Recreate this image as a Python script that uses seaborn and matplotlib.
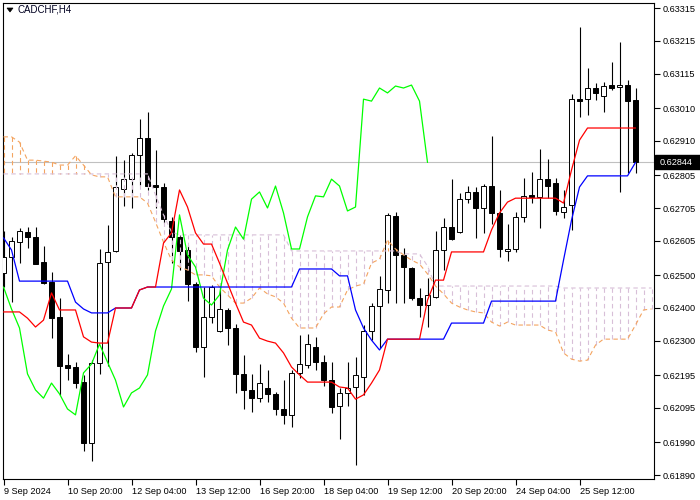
import numpy as np
import pandas as pd
import seaborn as sns
import matplotlib
matplotlib.use("Agg")
import matplotlib.pyplot as plt
from matplotlib.transforms import blended_transform_factory
from matplotlib.patches import Rectangle, Polygon

symbol = "CADCHF,H4"
last_price = 0.62844

# H4 candles (80 bars)
opens = [0.62507, 0.62556, 0.62601, 0.62632, 0.62617, 0.62540, 0.62479, 0.62373, 0.62226, 0.62220,
         0.62174, 0.61988, 0.62232, 0.62540, 0.62574, 0.62763, 0.62793, 0.62867, 0.62918, 0.62775,
         0.62769, 0.62665, 0.62617, 0.62577, 0.62473, 0.62281, 0.62373, 0.62330, 0.62394, 0.62339,
         0.62199, 0.62150, 0.62125, 0.62156, 0.62138, 0.62092, 0.62074, 0.62202, 0.62226, 0.62281,
         0.62235, 0.62180, 0.62101, 0.62141, 0.62159, 0.62190, 0.62330, 0.62406, 0.62455, 0.62681,
         0.62562, 0.62522, 0.62430, 0.62409, 0.62434, 0.62577, 0.62647, 0.62632, 0.62732, 0.62754,
         0.62705, 0.62772, 0.62690, 0.62574, 0.62580, 0.62678, 0.62745, 0.62739, 0.62793, 0.62781,
         0.62693, 0.62714, 0.63037, 0.63037, 0.63071, 0.63047, 0.63080, 0.63074, 0.63080, 0.63034]
highs = [0.62635, 0.62617, 0.62644, 0.62647, 0.62647, 0.62589, 0.62510, 0.62430, 0.62260, 0.62235,
         0.62196, 0.62241, 0.62580, 0.62653, 0.62864, 0.62851, 0.62873, 0.62976, 0.62998, 0.62882,
         0.62781, 0.62678, 0.62623, 0.62592, 0.62479, 0.62464, 0.62470, 0.62476, 0.62400, 0.62351,
         0.62257, 0.62199, 0.62229, 0.62211, 0.62144, 0.62180, 0.62211, 0.62318, 0.62321, 0.62312,
         0.62257, 0.62235, 0.62156, 0.62235, 0.62251, 0.62348, 0.62415, 0.62498, 0.62690, 0.62693,
         0.62583, 0.62525, 0.62461, 0.62491, 0.62635, 0.62674, 0.62793, 0.62751, 0.62772, 0.62769,
         0.62778, 0.62925, 0.62760, 0.62656, 0.62693, 0.62797, 0.62815, 0.62885, 0.62854, 0.62797,
         0.62760, 0.63053, 0.63257, 0.63132, 0.63086, 0.63089, 0.63150, 0.63211, 0.63095, 0.63071]
lows = [0.62464, 0.62418, 0.62537, 0.62583, 0.62534, 0.62473, 0.62308, 0.62135, 0.62180, 0.62156,
        0.61964, 0.61933, 0.62199, 0.62223, 0.62571, 0.62711, 0.62705, 0.62775, 0.62760, 0.62705,
        0.62659, 0.62537, 0.62516, 0.62421, 0.62266, 0.62190, 0.62354, 0.62327, 0.62287, 0.62141,
        0.62092, 0.62083, 0.62113, 0.62113, 0.62074, 0.62046, 0.62037, 0.62186, 0.62217, 0.62211,
        0.62162, 0.62080, 0.62000, 0.62101, 0.61921, 0.62135, 0.62302, 0.62278, 0.62415, 0.62415,
        0.62415, 0.62424, 0.62373, 0.62342, 0.62430, 0.62516, 0.62607, 0.62629, 0.62720, 0.62614,
        0.62629, 0.62656, 0.62556, 0.62543, 0.62571, 0.62662, 0.62720, 0.62644, 0.62735, 0.62684,
        0.62674, 0.62638, 0.62983, 0.62989, 0.63034, 0.62998, 0.63065, 0.62754, 0.62812, 0.62812]
closes = [0.62556, 0.62604, 0.62635, 0.62617, 0.62534, 0.62476, 0.62369, 0.62223, 0.62217, 0.62171,
          0.61988, 0.62232, 0.62537, 0.62571, 0.62769, 0.62793, 0.62867, 0.62918, 0.62772, 0.62769,
          0.62671, 0.62617, 0.62574, 0.62473, 0.62281, 0.62373, 0.62464, 0.62397, 0.62339, 0.62199,
          0.62150, 0.62125, 0.62171, 0.62138, 0.62092, 0.62074, 0.62202, 0.62229, 0.62290, 0.62235,
          0.62180, 0.62098, 0.62141, 0.62156, 0.62196, 0.62330, 0.62406, 0.62458, 0.62684, 0.62562,
          0.62525, 0.62430, 0.62409, 0.62440, 0.62577, 0.62647, 0.62610, 0.62732, 0.62754, 0.62705,
          0.62772, 0.62690, 0.62580, 0.62580, 0.62678, 0.62742, 0.62739, 0.62793, 0.62772, 0.62696,
          0.62708, 0.63037, 0.63031, 0.63071, 0.63056, 0.63077, 0.63071, 0.63080, 0.63031, 0.62844]

# Ichimoku lines as drawn on the chart
tenkan = [0.62388, 0.62388, 0.62388, 0.62369, 0.62342, 0.62363, 0.62446, 0.62394, 0.62394, 0.62394,
          0.62312, 0.62296, 0.62293, 0.62293, 0.62400, 0.62400, 0.62400, 0.62455, 0.62464, 0.62464,
          0.62598, 0.62629, 0.62760, 0.62708, 0.62629, 0.62595, 0.62595, 0.62537, 0.62476, 0.62415,
          0.62357, 0.62348, 0.62308, 0.62299, 0.62293, 0.62263, 0.62220, 0.62196, 0.62174, 0.62174,
          0.62174, 0.62174, 0.62159, 0.62156, 0.62122, 0.62135, 0.62171, 0.62211, 0.62305, 0.62305,
          0.62305, 0.62305, 0.62305, 0.62424, 0.62485, 0.62485, 0.62571, 0.62571, 0.62571, 0.62571,
          0.62571, 0.62638, 0.62690, 0.62723, 0.62735, 0.62735, 0.62735, 0.62735, 0.62735, 0.62735,
          0.62720, 0.62821, 0.62912, 0.62949, 0.62949, 0.62949, 0.62949, 0.62949, 0.62949, 0.62949]
kijun = [0.62614, 0.62577, 0.62482, 0.62482, 0.62482, 0.62482, 0.62482, 0.62482, 0.62482, 0.62418,
         0.62397, 0.62385, 0.62385, 0.62385, 0.62400, 0.62400, 0.62400, 0.62455, 0.62464, 0.62464,
         0.62464, 0.62464, 0.62464, 0.62464, 0.62464, 0.62464, 0.62464, 0.62464, 0.62464, 0.62464,
         0.62464, 0.62464, 0.62464, 0.62464, 0.62464, 0.62464, 0.62464, 0.62519, 0.62519, 0.62519,
         0.62519, 0.62519, 0.62498, 0.62498, 0.62394, 0.62339, 0.62302, 0.62272, 0.62305, 0.62305,
         0.62305, 0.62305, 0.62305, 0.62305, 0.62305, 0.62305, 0.62354, 0.62354, 0.62354, 0.62354,
         0.62354, 0.62421, 0.62421, 0.62421, 0.62421, 0.62421, 0.62421, 0.62421, 0.62421, 0.62421,
         0.62546, 0.62668, 0.62769, 0.62803, 0.62803, 0.62803, 0.62803, 0.62803, 0.62803, 0.62844]
# senkou spans run on past the last bar (82 visible points)
span_a = [0.62922, 0.62922, 0.62906, 0.62851, 0.62851, 0.62848, 0.62845, 0.62836, 0.62836, 0.62864,
          0.62836, 0.62806, 0.62800, 0.62800, 0.62739, 0.62739, 0.62739, 0.62739, 0.62720, 0.62662,
          0.62601, 0.62546, 0.62525, 0.62516, 0.62501, 0.62501, 0.62498, 0.62464, 0.62440, 0.62415,
          0.62415, 0.62430, 0.62461, 0.62443, 0.62434, 0.62415, 0.62369, 0.62339, 0.62339, 0.62339,
          0.62382, 0.62403, 0.62403, 0.62455, 0.62467, 0.62473, 0.62537, 0.62549, 0.62607, 0.62580,
          0.62562, 0.62546, 0.62534, 0.62504, 0.62467, 0.62443, 0.62415, 0.62403, 0.62394, 0.62388,
          0.62385, 0.62357, 0.62345, 0.62357, 0.62348, 0.62348, 0.62348, 0.62348, 0.62333, 0.62327,
          0.62263, 0.62244, 0.62238, 0.62241, 0.62287, 0.62305, 0.62305, 0.62305, 0.62305, 0.62348,
          0.62394, 0.62397]
span_b = [0.62809, 0.62809, 0.62809, 0.62809, 0.62809, 0.62809, 0.62809, 0.62809, 0.62809, 0.62809,
          0.62809, 0.62809, 0.62809, 0.62809, 0.62809, 0.62809, 0.62809, 0.62809, 0.62809, 0.62745,
          0.62684, 0.62632, 0.62623, 0.62623, 0.62623, 0.62623, 0.62623, 0.62623, 0.62623, 0.62623,
          0.62623, 0.62623, 0.62623, 0.62623, 0.62623, 0.62623, 0.62574, 0.62574, 0.62574, 0.62574,
          0.62574, 0.62574, 0.62574, 0.62574, 0.62574, 0.62574, 0.62574, 0.62574, 0.62574, 0.62574,
          0.62565, 0.62565, 0.62565, 0.62528, 0.62467, 0.62467, 0.62467, 0.62467, 0.62467, 0.62467,
          0.62467, 0.62467, 0.62467, 0.62467, 0.62467, 0.62467, 0.62467, 0.62467, 0.62467, 0.62467,
          0.62461, 0.62461, 0.62461, 0.62461, 0.62461, 0.62461, 0.62461, 0.62461, 0.62461, 0.62461,
          0.62461, 0.62461]
chikou_shift = 26

tick_bars = [0, 8, 16, 24, 32, 40, 48, 56, 64, 72]
tick_labels = ["9 Sep 2024", "10 Sep 20:00", "12 Sep 04:00", "13 Sep 12:00", "16 Sep 20:00",
               "18 Sep 04:00", "19 Sep 12:00", "20 Sep 20:00", "24 Sep 04:00", "25 Sep 12:00"]
price_ticks = [0.63315, 0.63215, 0.63115, 0.63010, 0.62910, 0.62805, 0.62705, 0.62605,
               0.62500, 0.62400, 0.62300, 0.62195, 0.62095, 0.61990, 0.61890]

sns.set_style("white")
plt.rcParams["font.family"] = ["Liberation Sans", "DejaVu Sans"]

W, H = 700, 500
fig = plt.figure(figsize=(7, 5), dpi=100)
fig.patch.set_facecolor("white")
ax = fig.add_axes([3 / W, 21 / H, 651 / W, 476 / H])

n = len(closes)
bars = pd.DataFrame({"bar": np.arange(n), "open": opens, "high": highs,
                     "low": lows, "close": closes, "tenkan": tenkan, "kijun": kijun})
cloud = pd.DataFrame({"bar": np.arange(len(span_a)), "a": span_a, "b": span_b})
# chikou span = closes drawn 26 bars back
chikou = bars.iloc[chikou_shift:][["close"]].copy()
chikou["bar"] = np.arange(len(chikou))

# current price line
ax.axhline(last_price, color="#c0c0c0", lw=0.8, zorder=0)

# candles
up = bars["close"] >= bars["open"]
ax.vlines(bars["bar"], bars["low"], bars["high"], color="black", lw=0.8, zorder=2)
ax.bar(bars["bar"], (bars["close"] - bars["open"]).abs(),
       bottom=np.minimum(bars["open"], bars["close"]), width=0.6,
       color=np.where(up, "white", "black"), edgecolor="black", linewidth=0.7, zorder=3)

# kumo hatching
dash = (0, (4, 3))
hatch_col = np.where(cloud["a"] > cloud["b"], "#F4A460", "#D8BFD8")
ax.vlines(cloud["bar"], cloud["a"], cloud["b"], colors=hatch_col, linestyles=dash, lw=0.8, zorder=4)
sns.lineplot(data=cloud, x="bar", y="b", color="#D8BFD8", lw=0.8, linestyle=dash,
             estimator=None, sort=False, ax=ax, zorder=4)
sns.lineplot(data=cloud, x="bar", y="a", color="#F4A460", lw=0.8, linestyle=dash,
             estimator=None, sort=False, ax=ax, zorder=4)

sns.lineplot(data=chikou, x="bar", y="close", color="#00FF00", lw=0.9,
             estimator=None, sort=False, ax=ax, zorder=5)
sns.lineplot(data=bars, x="bar", y="kijun", color="#0000FF", lw=0.9,
             estimator=None, sort=False, ax=ax, zorder=5)
sns.lineplot(data=bars, x="bar", y="tenkan", color="#FF0000", lw=0.9,
             estimator=None, sort=False, ax=ax, zorder=6)

ax.set_xlim(-0.0625, 81.31)
ax.set_ylim(0.618784, 0.633303)
ax.set_xlabel("")
ax.set_ylabel("")

ax.yaxis.tick_right()
ax.set_yticks(price_ticks)
ax.set_yticklabels([f"{v:.5f}" for v in price_ticks])
ax.set_xticks(tick_bars)
ax.set_xticklabels(tick_labels, ha="left")
ax.tick_params(axis="y", which="both", right=True, left=False, length=4, width=0.8,
               pad=2, labelsize=6.6, colors="black", direction="out")
ax.tick_params(axis="x", bottom=True, length=4, width=0.8, pad=1.5, labelsize=6.6,
               colors="black", direction="out")
for s in ax.spines.values():
    s.set_visible(True)
    s.set_color("black")
    s.set_linewidth(0.8)

# last price tag on the price scale
tr = blended_transform_factory(ax.transAxes, ax.transData)
ax.add_patch(Rectangle((1.0015, last_price - 0.000215), 0.0706, 0.00043, transform=tr,
                       facecolor="black", edgecolor="black", clip_on=False, zorder=10))
ax.text(1.0092, last_price, f"{last_price:.5f}", transform=tr, color="white",
        fontsize=6.6, va="center", ha="left", zorder=11, clip_on=False)

# symbol caption
fig.patches.append(Polygon([(7 / W, 1 - 8 / H), (13 / W, 1 - 8 / H), (10 / W, 1 - 12 / H)],
                           closed=True, transform=fig.transFigure, facecolor="black",
                           edgecolor="black", lw=0.5))
fig.text(18 / W, 1 - 10 / H, symbol, fontsize=7, va="center", ha="left", color="#000020")

fig.savefig("out.png", dpi=100, facecolor="white")
